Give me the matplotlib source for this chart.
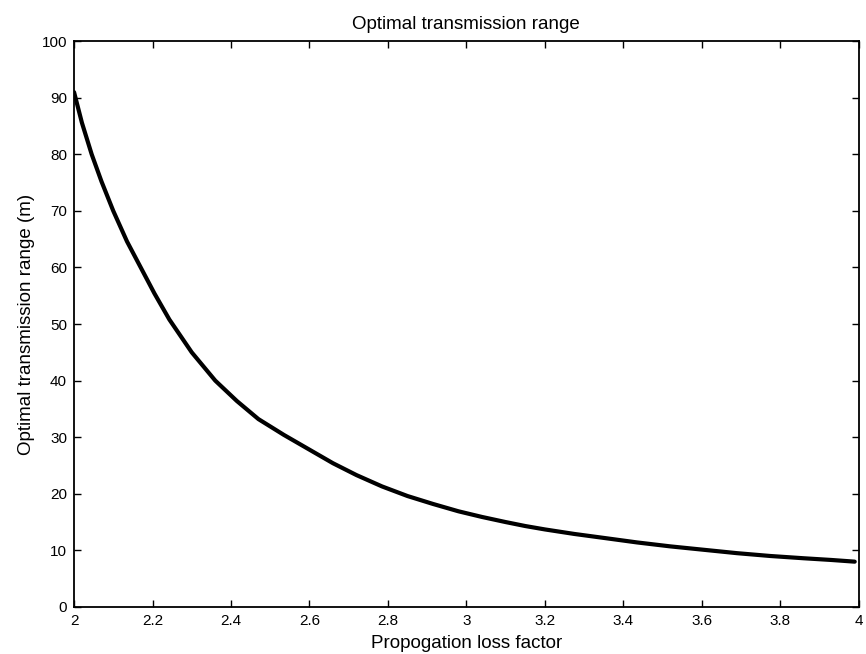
import matplotlib
matplotlib.use("Agg")
import matplotlib.pyplot as plt

plt.rcParams['font.family'] = ['Liberation Sans', 'DejaVu Sans']

# Data
loss_factor = [2.00, 2.02, 2.045, 2.07, 2.10, 2.135, 2.17, 2.205, 2.243, 2.30, 2.36,
               2.415, 2.47, 2.535, 2.60, 2.66, 2.72, 2.785, 2.85, 2.915, 2.98,
               3.04, 3.10, 3.15, 3.20, 3.275, 3.35, 3.435, 3.52, 3.605, 3.69,
               3.775, 3.86, 3.93, 3.99]
opt_range = [91.0, 85.6, 80.0, 75.2, 70.0, 64.6, 60.0, 55.4, 50.8, 45.0, 40.0,
             36.4, 33.2, 30.4, 27.8, 25.4, 23.3, 21.3, 19.6, 18.2, 16.9,
             15.9, 15.0, 14.3, 13.7, 12.9, 12.2, 11.4, 10.7, 10.1, 9.5,
             9.0, 8.6, 8.3, 8.0]

xticks = [2, 2.2, 2.4, 2.6, 2.8, 3, 3.2, 3.4, 3.6, 3.8, 4]
xticklabels = ['2', '2.2', '2.4', '2.6', '2.8', '3', '3.2', '3.4', '3.6', '3.8', '4']
yticks = [0, 10, 20, 30, 40, 50, 60, 70, 80, 90, 100]

fig = plt.figure(figsize=(8.66, 6.54), dpi=100)
ax = fig.add_axes([0.0855, 0.072, 0.906, 0.865])

ax.plot(loss_factor, opt_range, color='black', linewidth=3.0,
        solid_capstyle='round', solid_joinstyle='round')

ax.set_xlim(2, 4)
ax.set_ylim(0, 100)
ax.set_xticks(xticks)
ax.set_xticklabels(xticklabels)
ax.set_yticks(yticks)

ax.tick_params(direction='in', length=5, width=1.0, top=True, right=True,
               labelsize=11, pad=5, colors='black')
for sp in ax.spines.values():
    sp.set_linewidth(1.3)
    sp.set_color('black')

ax.set_title('Optimal transmission range', fontsize=13.5, pad=9)
ax.set_xlabel('Propogation loss factor', fontsize=13.5, labelpad=5)
ax.set_ylabel('Optimal transmission range (m)', fontsize=13.5, labelpad=5)

fig.savefig('out.png', dpi=100)
